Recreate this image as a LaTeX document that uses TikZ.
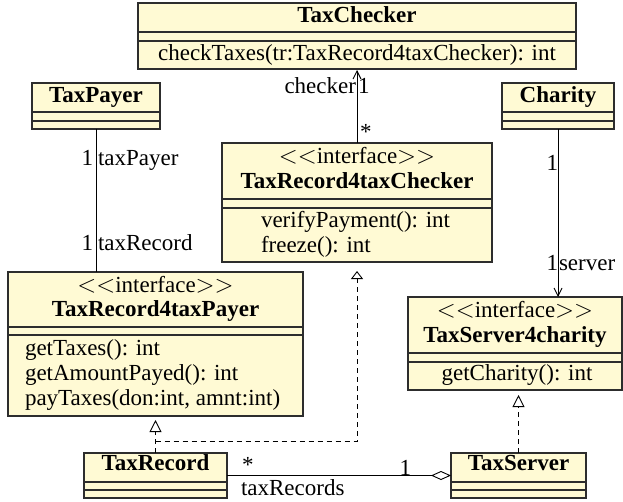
\documentclass[tikz,border=0pt]{standalone}
\usepackage{fontspec}
\setmainfont{Liberation Serif}
\usetikzlibrary{arrows.meta}
\definecolor{clsfill}{RGB}{255,250,212}
\definecolor{clsdraw}{RGB}{45,45,45}
\newcommand{\stereo}[1]{$<<$#1$>>$}
\tikzset{
  every node/.style={font=\fontsize{23}{25}\selectfont, inner sep=0pt, outer sep=0pt},
  cls/.style={draw=clsdraw, fill=clsfill, line width=1.2pt},
  sepline/.style={draw=clsdraw, line width=1.2pt},
  txt/.style={anchor=base},
  nm/.style={anchor=base, font=\fontsize{23}{25}\selectfont\bfseries},
  opl/.style={anchor=base west},
  conn/.style={line width=0.9pt, black},
  navig/.style={conn, -{Straight Barb[length=8pt,width=8pt,line width=0.9pt]}},
  realize/.style={conn, dash pattern=on 5pt off 4pt, -{Triangle[open,length=12pt,width=12pt,line width=0.9pt,fill=white]}},
  aggr/.style={conn, -{Diamond[open,length=20pt,width=9pt,line width=0.9pt,fill=white]}}
}
\begin{document}
\begin{tikzpicture}[x=1pt,y=-1pt]
\useasboundingbox (0,0) rectangle (623,501);

% TaxChecker
\node[cls, minimum width=438pt, minimum height=66pt] (tc) at (357,36) {};
\draw[sepline] (tc.west |- 0,32) -- (tc.east |- 0,32);
\draw[sepline] (tc.west |- 0,41) -- (tc.east |- 0,41);
\node[nm] (tcn) at (357,22) {TaxChecker};
\node[txt] (tco) at (357,60) {checkTaxes(tr:TaxRecord4taxChecker): int};

% TaxPayer
\node[cls, minimum width=128pt, minimum height=46pt] (tp) at (96,106) {};
\draw[sepline] (tp.west |- 0,112) -- (tp.east |- 0,112);
\draw[sepline] (tp.west |- 0,121) -- (tp.east |- 0,121);
\node[nm] (tpn) at (96,102) {TaxPayer};

% Charity
\node[cls, minimum width=112pt, minimum height=46pt] (ch) at (558,106) {};
\draw[sepline] (ch.west |- 0,112) -- (ch.east |- 0,112);
\draw[sepline] (ch.west |- 0,121) -- (ch.east |- 0,121);
\node[nm] (chn) at (558,102) {Charity};

% TaxRecord4taxChecker
\node[cls, minimum width=270pt, minimum height=119pt] (trc) at (357,202.5) {};
\draw[sepline] (trc.west |- 0,199) -- (trc.east |- 0,199);
\draw[sepline] (trc.west |- 0,208) -- (trc.east |- 0,208);
\node[txt] (trcs) at (357,163) {\stereo{interface}};
\node[nm] (trcn) at (357,188) {TaxRecord4taxChecker};
\node[opl] (trco1) at (261,227) {verifyPayment(): int};
\node[opl] (trco2) at (261,252) {freeze(): int};

% TaxRecord4taxPayer
\node[cls, minimum width=295pt, minimum height=144pt] (trp) at (155.5,344) {};
\draw[sepline] (trp.west |- 0,327) -- (trp.east |- 0,327);
\draw[sepline] (trp.west |- 0,335) -- (trp.east |- 0,335);
\node[txt] (trps) at (155.5,292) {\stereo{interface}};
\node[nm] (trpn) at (155.5,316) {TaxRecord4taxPayer};
\node[opl] (trpo1) at (25,355) {getTaxes(): int};
\node[opl] (trpo2) at (25,380) {getAmountPayed(): int};
\node[opl] (trpo3) at (25,405) {payTaxes(don:int, amnt:int)};

% TaxServer4charity
\node[cls, minimum width=214pt, minimum height=93pt] (tsc) at (515,343.5) {};
\draw[sepline] (tsc.west |- 0,353) -- (tsc.east |- 0,353);
\draw[sepline] (tsc.west |- 0,362) -- (tsc.east |- 0,362);
\node[txt] (tscs) at (515,317) {\stereo{interface}};
\node[nm] (tscn) at (515,342) {TaxServer4charity};
\node[txt] (tsco) at (517,380) {getCharity(): int};

% TaxRecord
\node[cls, minimum width=143pt, minimum height=45pt] (tr) at (155.5,475.5) {};
\draw[sepline] (tr.west |- 0,482) -- (tr.east |- 0,482);
\draw[sepline] (tr.west |- 0,490) -- (tr.east |- 0,490);
\node[nm] (trn) at (155.5,470) {TaxRecord};

% TaxServer
\node[cls, minimum width=135pt, minimum height=45pt] (ts) at (518.5,475.5) {};
\draw[sepline] (ts.west |- 0,482) -- (ts.east |- 0,482);
\draw[sepline] (ts.west |- 0,490) -- (ts.east |- 0,490);
\node[nm] (tsn) at (518.5,470) {TaxServer};

% connectors
\draw[navig, shorten >=1pt] (trc.north) -- (tc.south);
\node[anchor=base east] (l1) at (356,93) {checker};
\node[anchor=base west] (l2) at (358,93) {1};
\node[anchor=base west] (l3) at (360,139) {*};

\draw[conn] (tp.south) -- (tp.south |- trp.north);
\node[anchor=base east] (l4) at (93,165) {1};
\node[anchor=base west] (l5) at (98,165) {taxPayer};
\node[anchor=base east] (l6) at (93,250) {1};
\node[anchor=base west] (l7) at (98,250) {taxRecord};

\draw[navig] (ch.south) -- (ch.south |- tsc.north);
\node[anchor=base east] (l8) at (558,170) {1};
\node[anchor=base east] (l9) at (558,270) {1};
\node[anchor=base west] (l10) at (559,270) {server};

\draw[realize, shorten >=4pt] (tr.north) -- (tr.north |- trp.south);
\coordinate (jn) at (155.5,441);
\draw[conn, dash pattern=on 5pt off 4pt, -{Triangle[open,length=8pt,width=12pt,line width=0.9pt,fill=white]}, shorten >=9pt] (jn) -- (jn -| trc.south) -- (trc.south);
\draw[realize, shorten >=5pt] (ts.north) -- (ts.north |- tsc.south);

\draw[aggr] (tr.east) -- (ts.west);
\node[anchor=base west] (l11) at (242,472) {*};
\node[anchor=base east] (l12) at (411,475) {1};
\node[anchor=base west] (l13) at (241,495) {taxRecords};
\end{tikzpicture}
\end{document}
